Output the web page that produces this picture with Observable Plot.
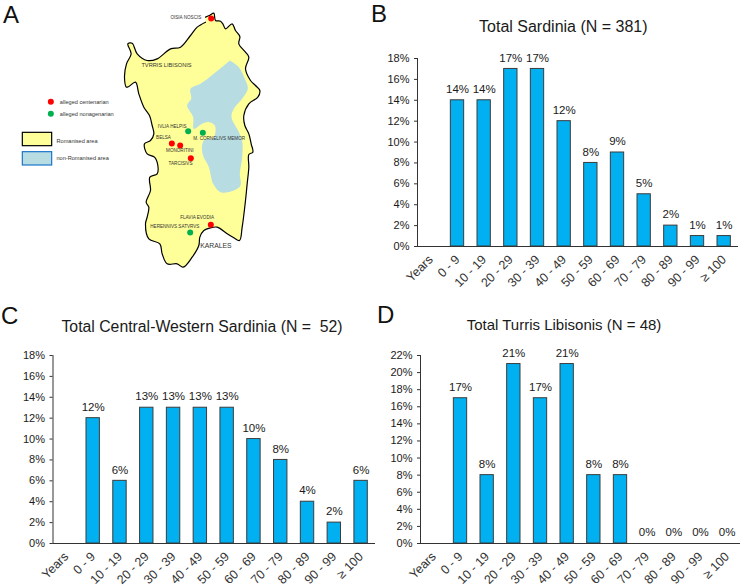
<!DOCTYPE html>
<html>
<head>
<meta charset="utf-8">
<script src="https://cdn.jsdelivr.net/npm/d3@7"></script>
<script src="https://cdn.jsdelivr.net/npm/@observablehq/plot@0.6"></script>
<style>
  html, body { margin: 0; padding: 0; background: #fff; }
  #root { position: relative; width: 740px; height: 586px; overflow: hidden; font-family: "Liberation Sans", Arial, sans-serif; color: #1a1a1a; }
  #root > svg, #root > div { position: absolute; }
  #root svg { background: none !important; max-width: none !important; }
  .letter { font-size: 24px; line-height: 28px; color: #111; }
  .title { white-space: pre; transform: translate(-50%, -50%); line-height: 1; }
</style>
</head>
<body>
<div id="root"></div>
<script>
const ages = ["Years", "0 - 9", "10 - 19", "20 - 29", "30 - 39", "40 - 49", "50 - 59", "60 - 69", "70 - 79", "80 - 89", "90 - 99", "≥ 100"];
const sardinia = [null, 14, 14, 17, 17, 12, 8, 9, 5, 2, 1, 1];
const centralWestern = [null, 12, 6, 13, 13, 13, 13, 10, 8, 4, 2, 6];
const turrisLibisonis = [null, 17, 8, 21, 17, 21, 8, 8, 0, 0, 0, 0];

// Map outlines, in map units (x east, y south)
const islandX = [615,628,640,645,660,668,675,695,705,718,715,735,745,735,750,765,778,772,745,730,733,745,752,757,745,745,740,735,725,717,700,680,650,630,610,598,595,575,548,530,500,485,478,445,435,440,445,437,450,448,470,472,462,440,432,450,460,455,447,430,415,405,385,378,372,378,392,382,395,410,440,470,510,540,570,590,615];
const islandY = [50,44,38,60,62,72,85,70,90,108,130,155,170,205,240,255,270,290,310,345,375,400,430,455,462,500,550,600,680,720,712,700,680,682,690,710,735,770,800,790,790,760,730,715,670,650,620,605,570,530,520,495,470,460,430,420,400,375,345,320,280,245,258,260,230,190,160,130,128,160,180,175,145,140,105,80,65];
const uplandX = [688,715,733,742,725,700,693,710,725,725,718,720,700,660,638,625,606,610,640,643,625,605,580,578,560,572,570,600,640,688];
const uplandY = [180,200,235,265,295,325,350,385,420,470,520,555,570,575,550,500,460,420,410,375,365,370,385,350,315,295,265,250,220,180];

const siteNames = ["OISIA NOSCIS", "IVLIA HELPIS", "BELSA", "M. CORNELIVS MEMOR", "MONORITINI", "TARCISIVS", "FLAVIA EVODIA", "HERENNIVS SATVRVS"];
const siteLabelX = [556, 515, 489, 656, 538, 540, 590, 523];
const siteLabelY = [52, 377, 412, 415, 451, 489, 650, 679];
const townNames = ["TVRRIS LIBISONIS", "KARALES"];
const townX = [498, 646];
const townY = [195, 736];
const dotX = [632, 514, 539, 571, 631, 563, 607, 569, 151, 151];
const dotY = [54, 429, 435, 473, 673, 392, 397, 696, 304, 340];
const dotKind = ["c", "c", "c", "c", "c", "n", "n", "n", "c", "n"];
const keyNames = ["alleged centenarian", "alleged nonagenarian", "Romanised area", "non-Romanised area"];
const keyX = [178, 178, 168, 168];
const keyY = [305, 341, 421, 472];
const swatchX1 = [67, 67], swatchX2 = [155, 155], swatchY1 = [397, 455], swatchY2 = [437, 495];
const swatchFill = ["#ffff99", "#b7dde3"], swatchStroke = ["#000000", "#1b75c9"];

const root = document.getElementById("root");
const font = '"Liberation Sans", Arial, sans-serif';

function pts(xs, ys) { return xs.map((x, i) => ({x, y: ys[i]})); }

const map = Plot.plot({
  width: 330, height: 300, margin: 0,
  style: {fontFamily: font, background: "none"},
  x: {domain: [0, 990], axis: null},
  y: {domain: [900, 0], axis: null},
  marks: [
    Plot.line(pts(islandX, islandY), {x: "x", y: "y", fill: "#ffff99", stroke: "#000", strokeWidth: 1.2, curve: "catmull-rom"}),
    Plot.line(pts(uplandX, uplandY), {x: "x", y: "y", fill: "#b7dde3", stroke: "none", curve: "catmull-rom"}),
    Plot.rect(swatchFill.map((f, i) => ({x1: swatchX1[i], x2: swatchX2[i], y1: swatchY1[i], y2: swatchY2[i], f, s: swatchStroke[i]})),
      {x1: "x1", x2: "x2", y1: "y1", y2: "y2", fill: "f", stroke: "s", strokeWidth: 1.2}),
    Plot.dot(dotX.map((x, i) => ({x, y: dotY[i], k: dotKind[i]})),
      {x: "x", y: "y", r: 3, stroke: "none", fill: d => d.k === "c" ? "#ff0000" : "#00b050"}),
    Plot.text(siteNames.map((t, i) => ({t, x: siteLabelX[i], y: siteLabelY[i]})),
      {x: "x", y: "y", text: "t", fontSize: 4.6, fill: "#333"}),
    Plot.text(townNames.map((t, i) => ({t, x: townX[i], y: townY[i]})),
      {x: "x", y: "y", text: "t", fontSize: (d) => d.t === "KARALES" ? 6.8 : 5.7, fill: "#333"}),
    Plot.text(keyNames.map((t, i) => ({t, x: keyX[i], y: keyY[i]})),
      {x: "x", y: "y", text: "t", fontSize: 5.6, textAnchor: "start", fill: "#333"})
  ]
});
map.style.left = "0px"; map.style.top = "0px";
root.appendChild(map);

function panel(values, o) {
  const rows = ages.map((a, i) => ({a, v: values[i]})).filter(d => d.v !== null);
  const svg = Plot.plot({
    width: o.w, height: o.h,
    marginLeft: o.ml, marginRight: o.mr, marginTop: o.mt, marginBottom: o.mb,
    style: {fontFamily: font, background: "none", overflow: "visible"},
    x: {domain: ages, paddingInner: 0.5, paddingOuter: 0.25, round: false, label: null},
    y: {domain: [0, o.max], label: null},
    marks: [
      Plot.barY(rows, {x: "a", y: "v", fill: "#00b0f0", stroke: "#3c3c3c", strokeWidth: 1}),
      Plot.axisY({ticks: d3.range(0, o.max + 1, 2), tickFormat: d => d + "%", tickSize: 3, tickPadding: 5, fontSize: 11, stroke: "#333", fill: "#1a1a1a", label: null, marginLeft: o.ml}),
      Plot.axisX({tickRotate: -45, tickSize: 0, tickPadding: o.pad, fontSize: 12.5, fill: "#333", label: null, textAnchor: "end", lineAnchor: "middle"}),
      Plot.frame({anchor: "bottom", stroke: "#333", strokeWidth: 1}),
      Plot.frame({anchor: "left", stroke: "#333", strokeWidth: 1}),
      Plot.text(rows, {x: "a", y: "v", text: d => d.v + "%", dy: -11, fontSize: 11.5, fill: "#1a1a1a"})
    ]
  });
  svg.style.left = o.left + "px"; svg.style.top = o.top + "px";
  root.appendChild(svg);
}

panel(sardinia, {left: 370, top: 0, w: 370, h: 300, ml: 47, mr: 3, mt: 58, mb: 54, max: 18, pad: 11});
panel(centralWestern, {left: 0, top: 300, w: 375, h: 286, ml: 52.5, mr: 1, mt: 55, mb: 43, max: 18, pad: 11});
panel(turrisLibisonis, {left: 370, top: 300, w: 370, h: 286, ml: 50, mr: 0, mt: 55, mb: 43, max: 22, pad: 11});

const titles = ["Total Sardinia (N = 381)", "Total Central-Western Sardinia (N =  52)", "Total Turris Libisonis (N = 48)"];
const titleX = [563.3, 202, 564], titleY = [27, 327, 324], titleSize = [16, 15.8, 15];
titles.forEach((t, i) => {
  const d = document.createElement("div");
  d.className = "title"; d.textContent = t;
  d.style.left = titleX[i] + "px"; d.style.top = titleY[i] + "px"; d.style.fontSize = titleSize[i] + "px";
  root.appendChild(d);
});
const letters = ["A", "B", "C", "D"], letterX = [3, 371, 1, 377], letterY = [1, 0, 302, 301];
letters.forEach((t, i) => {
  const d = document.createElement("div");
  d.className = "letter"; d.textContent = t;
  d.style.left = letterX[i] + "px"; d.style.top = letterY[i] + "px";
  root.appendChild(d);
});
</script>
</body>
</html>
